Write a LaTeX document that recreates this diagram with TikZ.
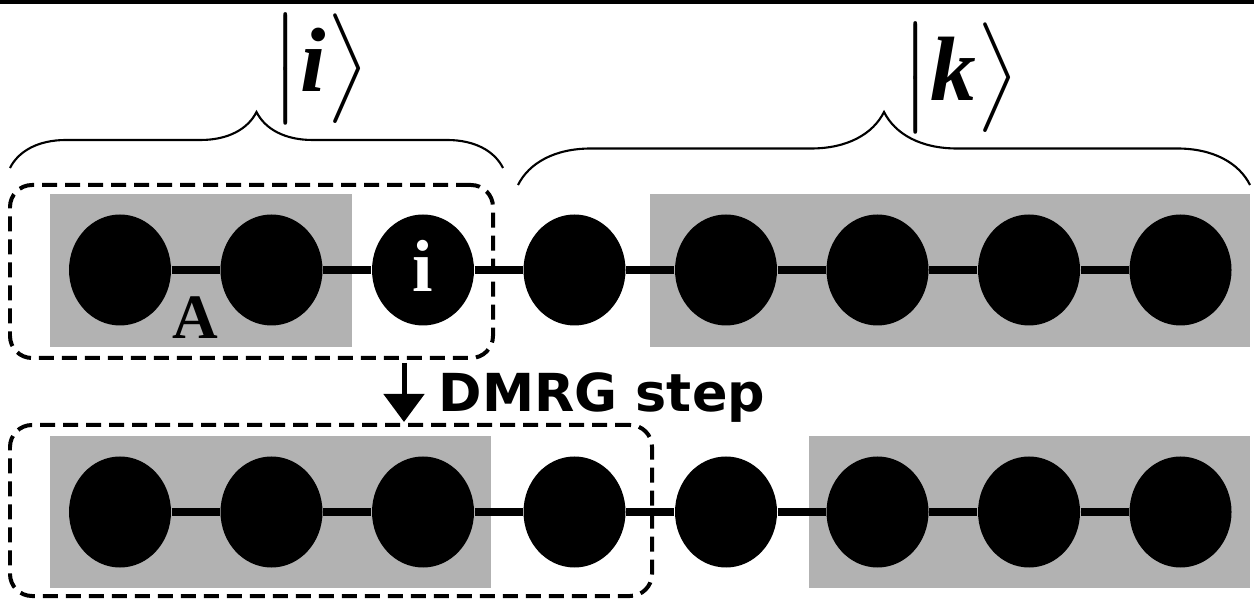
\documentclass[tikz,border=0pt]{standalone}
\usepackage{amsmath}
\usepackage{amssymb}
\usepackage{fontspec}
\usetikzlibrary{arrows.meta, decorations.pathreplacing, shapes.geometric, positioning}
\newfontfamily\stepfont{DejaVu Sans}
\newfontfamily\sitefont{Liberation Serif}
\newcommand{\ketletter}[1]{\text{\sitefont\bfseries\itshape #1}}

\begin{document}
\begin{tikzpicture}[
    site/.style={ellipse, fill=black, minimum width=1.02cm, minimum height=1.11cm, inner sep=0pt},
    link/.style={line width=0.08cm},
    block/.style={fill=black!30},
    sysbox/.style={draw, line width=0.04cm, dash pattern=on 0.15cm off 0.08cm, rounded corners=0.22cm},
    ketbrace/.style={decorate, line width=0.6pt}
]
    \useasboundingbox (0,0) rectangle (12.54,5.98);
    \fill (0,5.94) rectangle (12.54,5.98);

    \def\ytop{3.28}
    \def\ybot{0.86}
    \def\dx{1.515}

    % Draw the gray blocks
    \fill[block] (0.50,2.51) rectangle (3.52,4.04);
    \fill[block] (6.50,2.51) rectangle (12.50,4.04);
    \fill[block] (0.50,0.10) rectangle (4.91,1.62);
    \fill[block] (8.09,0.10) rectangle (12.50,1.62);

    % Place the sites of both chains
    \foreach \n in {1,...,8} {
        \node[site] (t\n) at ({1.20+(\n-1)*\dx},\ytop) {};
        \node[site] (b\n) at ({1.20+(\n-1)*\dx},\ybot) {};
    }
    \node[text=white, inner sep=0pt, font={\sitefont\bfseries\fontsize{21}{23}\selectfont}] (labi) at ([yshift=0.04cm]t3) {i};
    \node[anchor=base, inner sep=0pt, font={\sitefont\bfseries\fontsize{18}{20}\selectfont}] (labA) at (1.95,2.59) {A};

    % Connect the sites
    \foreach \n [count=\m from 2] in {1,...,7} {
        \draw[link] (t\n) -- (t\m);
        \draw[link] (b\n) -- (b\m);
    }

    % Mark the system blocks
    \node[sysbox, minimum width=4.83cm, minimum height=1.73cm] (sysA) at (2.515,3.265) {};
    \node[sysbox, minimum width=6.42cm, minimum height=1.71cm] (sysB) at (3.31,0.875) {};

    % Braces and kets
    \draw[ketbrace, decoration={brace, amplitude=0.56cm}] (0.10,4.30) -- (5.03,4.30);
    \draw[ketbrace, decoration={brace, amplitude=0.73cm}] (5.18,4.13) -- (12.50,4.13);
    \node[scale=2.6, inner sep=0pt] (keti) at (3.20,5.29) {$\bigl|\ketletter{i}\bigr\rangle$};
    \node[scale=2.6, inner sep=0pt] (ketk) at (9.60,5.20) {$\bigl|\ketletter{k}\bigr\rangle$};

    % The sweep step
    \coordinate (stepfrom) at (4.04,2.35);
    \coordinate (stepto) at (4.04,1.76);
    \draw[-{Triangle[width=0.40cm, length=0.28cm]}, line width=0.05cm] (stepfrom) -- (stepto);
    \node[anchor=base west, inner sep=0pt, font={\stepfont\bfseries\fontsize{14.9}{16}\selectfont}] (steplabel) at (4.38,1.86) {DMRG step};
\end{tikzpicture}
\end{document}
